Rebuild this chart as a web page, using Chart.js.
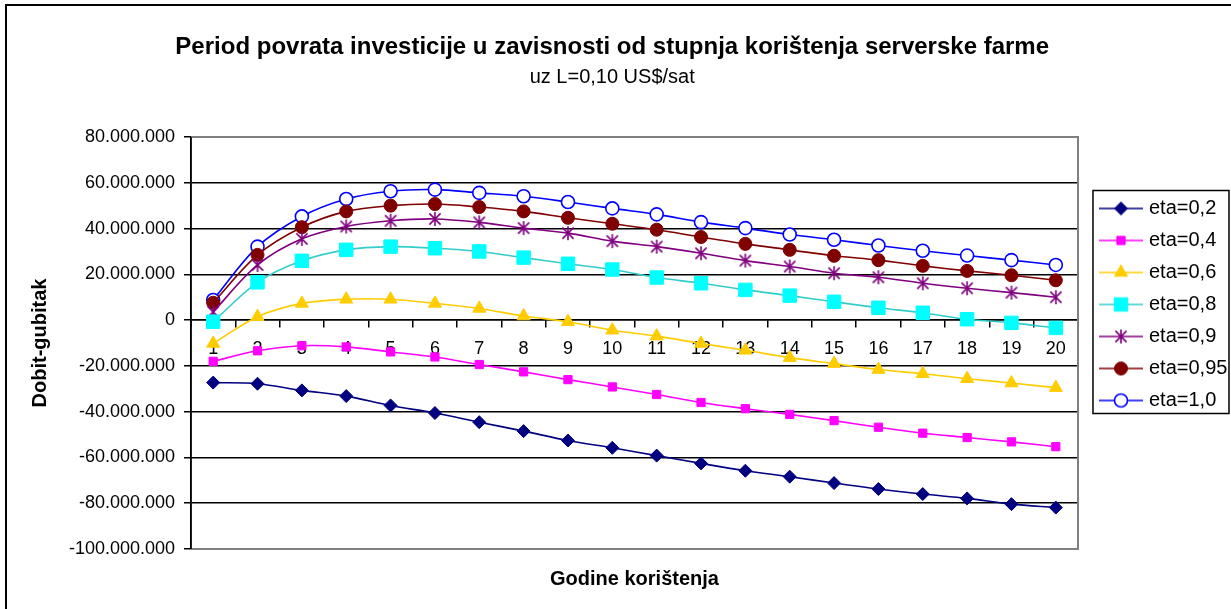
<!DOCTYPE html>
<html>
<head>
<meta charset="utf-8">
<script src="https://cdn.jsdelivr.net/npm/chart.js@4/dist/chart.umd.min.js"></script>
<style>
html,body{margin:0;padding:0;background:#fff;}
#wrap{width:1231px;height:609px;position:relative;}
</style>
</head>
<body>
<div id="wrap"><canvas id="c"></canvas></div>
<script>
const years = ['1','2','3','4','5','6','7','8','9','10','11','12','13','14','15','16','17','18','19','20'];
const seriesNames = ['eta=0,2','eta=0,4','eta=0,6','eta=0,8','eta=0,9','eta=0,95','eta=1,0'];
const eta02 = [-27300000,-27800000,-30700000,-33200000,-37300000,-40600000,-44600000,-48500000,-52600000,-55800000,-59200000,-62600000,-65800000,-68400000,-71200000,-73800000,-76000000,-77900000,-80400000,-81900000];
const eta04 = [-18000000,-13400000,-11200000,-11700000,-13900000,-16100000,-19400000,-22600000,-26000000,-29200000,-32500000,-36000000,-38700000,-41200000,-43900000,-46800000,-49400000,-51300000,-53200000,-55300000];
const eta06 = [-10200000,1500000,7300000,9100000,9100000,7300000,5100000,1800000,-700000,-4400000,-7000000,-10200000,-13200000,-16400000,-19000000,-21600000,-23400000,-25600000,-27500000,-29500000];
const eta08 = [-700000,16500000,25900000,30700000,32100000,31400000,30000000,27300000,24600000,22100000,18600000,16100000,13200000,10700000,8000000,5400000,3200000,400000,-1200000,-3400000];
const eta09 = [3600000,24100000,35500000,40900000,43400000,44200000,42700000,40200000,38000000,34500000,32100000,29200000,26000000,23400000,20500000,18700000,16100000,13900000,12000000,10000000];
const eta095 = [7600000,28500000,40600000,47500000,50000000,50700000,49400000,47500000,44700000,42100000,39500000,36300000,33300000,30700000,28100000,26200000,23700000,21500000,19600000,17400000];
const eta10 = [8800000,32100000,45300000,52900000,56300000,57000000,55600000,54100000,51600000,48800000,46200000,42800000,40200000,37400000,35100000,32600000,30300000,28200000,26200000,24100000];
const yMin = -100000000, yMax = 80000000, yStep = 20000000;

const FONT = "Arial, 'Liberation Sans', sans-serif";
Chart.defaults.font.family = FONT;
Chart.defaults.color = '#000';

function asteriskImage(color, r) {
  const s = Math.ceil(r * 2 + 4);
  const c = document.createElement('canvas');
  c.width = s; c.height = s;
  const g = c.getContext('2d');
  g.strokeStyle = color; g.lineWidth = 1.6;
  const m = s / 2;
  g.beginPath();
  g.moveTo(m, m - r); g.lineTo(m, m + r);
  const d = r * 0.8;
  g.moveTo(m - d, m - d); g.lineTo(m + d, m + d);
  g.moveTo(m - d, m + d); g.lineTo(m + d, m - d);
  g.stroke();
  return c;
}

const styles = [
  {line:'#000080', fill:'#000080', border:'#000080', ps:'rectRot', r:6.5, bw:1},
  {line:'#FF00FF', fill:'#FF00FF', border:'#FF00FF', ps:'rect', r:5.8, bw:1},
  {line:'#FFCC00', fill:'#FFCC00', border:'#FFCC00', ps:'triangle', r:7.5, bw:1},
  {line:'#33CCCC', fill:'#00FFFF', border:'#00FFFF', ps:'rect', r:9.5, bw:1},
  {line:'#800080', fill:'#800080', border:'#800080', ps:asteriskImage('#800080', 7), r:7, bw:1.5},
  {line:'#800000', fill:'#800000', border:'#800000', ps:'circle', r:6.5, bw:1},
  {line:'#0000FF', fill:'#FFFFFF', border:'#0000FF', ps:'circle', r:6.5, bw:1.6}
];
const seriesData = [eta02, eta04, eta06, eta08, eta09, eta095, eta10];

function legendGlyph(st) {
  const c = document.createElement('canvas');
  c.width = 44; c.height = 22;
  const g = c.getContext('2d');
  g.strokeStyle = st.line; g.lineWidth = 1.6;
  g.beginPath(); g.moveTo(0, 11); g.lineTo(44, 11); g.stroke();
  if (typeof st.ps === 'string') {
    g.fillStyle = st.fill; g.strokeStyle = st.border; g.lineWidth = st.bw;
    Chart.helpers.drawPoint(g, {pointStyle: st.ps, radius: st.r, borderWidth: st.bw, rotation: 0}, 22, 11);
  } else {
    g.drawImage(st.ps, 22 - st.ps.width / 2, 11 - st.ps.height / 2);
  }
  return c;
}

const datasets = seriesData.map((d, i) => ({
  label: seriesNames[i],
  data: d,
  borderColor: styles[i].line,
  borderWidth: 1.6,
  backgroundColor: styles[i].fill,
  pointBackgroundColor: styles[i].fill,
  pointBorderColor: styles[i].border,
  pointBorderWidth: styles[i].bw,
  pointStyle: styles[i].ps,
  pointRadius: styles[i].r,
  pointHoverRadius: styles[i].r,
  tension: 0.33,
  fill: false
}));

function fmt(v) {
  const n = Math.round(v);
  const s = Math.abs(n).toString().replace(/\B(?=(\d{3})+(?!\d))/g, '.');
  return (n < 0 ? '-' : '') + s;
}

const framePlugin = {
  id: 'frame',
  beforeDraw(chart) {
    const ctx = chart.ctx;
    ctx.save();
    ctx.fillStyle = '#fff';
    ctx.fillRect(0, 0, chart.width, chart.height);
    ctx.strokeStyle = '#000';
    ctx.lineWidth = 2;
    ctx.beginPath();
    ctx.moveTo(6, chart.height + 2); ctx.lineTo(6, 5); ctx.lineTo(chart.width + 2, 5);
    ctx.stroke();
    ctx.restore();
  },
  afterLayout(chart) {
    const lg = chart.legend;
    if (lg) { lg.left += 13; lg.right += 13; }
  },
  beforeDatasetsDraw(chart) {
    const a = chart.chartArea, ctx = chart.ctx;
    ctx.save();
    ctx.strokeStyle = '#808080';
    ctx.lineWidth = 2;
    ctx.beginPath();
    ctx.moveTo(a.left, a.top); ctx.lineTo(a.right, a.top); ctx.lineTo(a.right, a.bottom); ctx.lineTo(a.left, a.bottom);
    ctx.stroke();
    ctx.strokeStyle = '#000';
    ctx.lineWidth = 1.5;
    ctx.beginPath();
    ctx.moveTo(a.left, a.top); ctx.lineTo(a.left, a.bottom);
    ctx.stroke();
    ctx.restore();
  },
  afterDraw(chart) {
    const lg = chart.legend, ctx = chart.ctx;
    if (!lg || !lg.legendHitBoxes || !lg.legendHitBoxes.length) return;
    const hb = lg.legendHitBoxes;
    const first = hb[0], last = hb[hb.length - 1];
    const x0 = first.left - 10, y0 = first.top - 8;
    const x1 = x0 + 136, y1 = last.top + last.height + 3;
    ctx.save();
    ctx.strokeStyle = '#000';
    ctx.lineWidth = 1.5;
    ctx.strokeRect(x0, y0, x1 - x0, y1 - y0);
    ctx.restore();
  }
};

new Chart(document.getElementById('c'), {
  type: 'line',
  data: { labels: years, datasets },
  plugins: [framePlugin],
  options: {
    responsive: true,
    maintainAspectRatio: false,
    animation: false,
    layout: { padding: { left: 0, right: 6.6, top: 0, bottom: 0 } },
    plugins: {
      tooltip: { enabled: false },
      title: {
        display: true,
        text: 'Period povrata investicije u zavisnosti od stupnja korištenja serverske farme',
        font: { size: 24, weight: 'bold', family: FONT },
        color: '#000',
        padding: { top: 32.6, bottom: 0 }
      },
      subtitle: {
        display: true,
        text: 'uz L=0,10 US$/sat',
        font: { size: 20, weight: 'normal', family: FONT },
        color: '#000',
        padding: { top: 3.6, bottom: 48 }
      },
      legend: {
        display: true,
        position: 'right',
        align: 'center',
        labels: {
          usePointStyle: true,
          pointStyleWidth: 36,
          boxHeight: 20,
          padding: 12,
          font: { size: 20, family: FONT },
          color: '#000',
          generateLabels(chart) {
            return chart.data.datasets.map((ds, i) => ({
              text: ds.label,
              pointStyle: legendGlyph(styles[i]),
              fillStyle: styles[i].fill,
              strokeStyle: styles[i].line,
              lineWidth: 0,
              hidden: false,
              datasetIndex: i,
              fontColor: '#000'
            }));
          }
        }
      }
    },
    scales: {
      x: {
        type: 'category',
        position: { y: 0 },
        offset: true,
        grid: { display: true, drawOnChartArea: false, drawTicks: true, tickLength: 7, offset: true, color: '#000', lineWidth: 1.5 },
        border: { display: true, color: '#000', width: 1.5 },
        ticks: { font: { size: 18, family: FONT }, color: '#000', padding: 11, maxRotation: 0, autoSkip: false }
      },
      x2: {
        type: 'category',
        position: 'bottom',
        labels: years,
        grid: { display: false },
        border: { display: false },
        ticks: { display: false },
        title: {
          display: true,
          text: 'Godine korištenja',
          font: { size: 20, weight: 'bold', family: FONT },
          color: '#000',
          padding: { top: 0, bottom: 18 }
        },
        afterFit(scale) { scale.height = 60; }
      },
      y: {
        type: 'linear',
        position: 'left',
        min: yMin,
        max: yMax,
        ticks: { stepSize: yStep, font: { size: 18, family: FONT }, color: '#000', padding: 9, callback: (v) => fmt(v) },
        grid: {
          drawTicks: true,
          tickLength: 7,
          tickColor: '#000',
          lineWidth: 1.5,
          color: (c) => (c.tick && (c.tick.value === yMax || c.tick.value === yMin)) ? 'rgba(0,0,0,0)' : '#000'
        },
        border: { display: true, color: '#000', width: 1.5 },
        title: {
          display: true,
          text: 'Dobit-gubitak',
          font: { size: 20, weight: 'bold', family: FONT },
          color: '#000',
          padding: { top: 28, bottom: 0 }
        },
        afterFit(scale) { scale.width = 191; }
      }
    }
  }
});
</script>
</body>
</html>
